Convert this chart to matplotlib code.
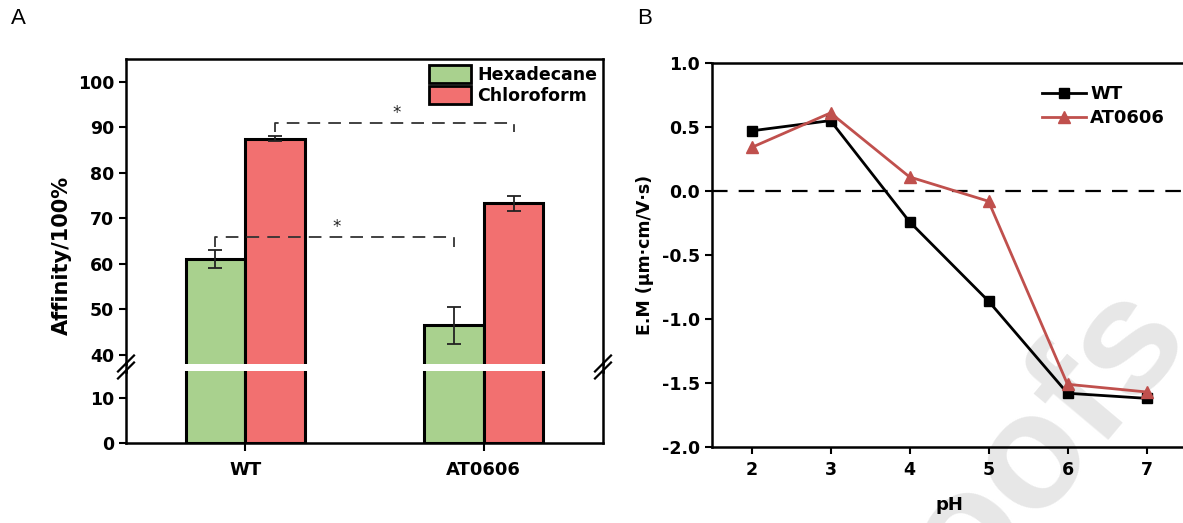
import matplotlib
matplotlib.use("Agg")
import matplotlib.pyplot as plt
import matplotlib.ticker as mticker
import numpy as np
from matplotlib.lines import Line2D
from matplotlib.patches import Patch

plt.rcParams["font.family"] = ["DejaVu Sans"]
plt.rcParams["font.weight"] = "bold"
plt.rcParams["axes.labelweight"] = "bold"

# --- panel A data
strains = ["WT", "AT0606"]
solvents = ["Hexadecane", "Chloroform"]
hexadecane = [61.0, 46.5]
hexadecane_err = [2.0, 4.1]
chloroform = [87.5, 73.3]
chloroform_err = [0.5, 1.6]
sig_levels = [66.0, 91.0]      # height of the dashed brackets
sig_drop = [63.8, 89.0]        # bottom of the bracket legs

# --- panel B data
ph = [2, 3, 4, 5, 6, 7]
em_wt = [0.47, 0.55, -0.24, -0.86, -1.58, -1.62]
em_at = [0.34, 0.61, 0.11, -0.08, -1.51, -1.57]

GREEN = "#A9D18E"
RED = "#F27070"
LINE_RED = "#C0504D"

W, H = 1183, 523
fig = plt.figure(figsize=(W / 100, H / 100), dpi=100)


def px(x0, y0, x1, y1):
    """pixel box (top-left origin) -> figure fraction rect"""
    return [x0 / W, 1 - y1 / H, (x1 - x0) / W, (y1 - y0) / H]


def fig_line(xs, ys, **kw):
    fig.add_artist(Line2D([x / W for x in xs], [1 - y / H for y in ys], **kw))


# watermark, behind the axes
fig.text(1022 / W, 1 - 530 / H, "Proofs", fontsize=118, color="#e7e7e7", rotation=50,
         rotation_mode="anchor", ha="center", va="baseline", fontweight="bold",
         family="Liberation Sans", zorder=-1)

# ---------------- panel A (broken axis)
ax_hi = fig.add_axes(px(126, 59, 603, 364))
ax_lo = fig.add_axes(px(126, 371, 603, 443))
x = np.arange(len(strains))
bw = 0.25
ekw = dict(ecolor="#222222", elinewidth=1.3, capsize=5, capthick=1.3)
for ax in (ax_hi, ax_lo):
    ax.bar(x - bw / 2, hexadecane, bw, color=GREEN, edgecolor="black", linewidth=2.2,
           yerr=hexadecane_err, error_kw=ekw, label=solvents[0], zorder=2)
    ax.bar(x + bw / 2, chloroform, bw, color=RED, edgecolor="black", linewidth=2.2,
           yerr=chloroform_err, error_kw=ekw, label=solvents[1], zorder=2)
    ax.set_xlim(-0.5, 1.5)
    for s in ax.spines.values():
        s.set_linewidth(1.8)
    ax.tick_params(axis="y", direction="out", width=1.5, length=5, labelsize=12.5)

ax_hi.set_ylim(38, 105)
ax_hi.set_yticks(range(40, 101, 10))
ax_hi.spines["bottom"].set_visible(False)
ax_hi.tick_params(axis="x", bottom=False, labelbottom=False)
ax_lo.set_ylim(0, 16)
ax_lo.set_yticks([0, 10])
ax_lo.spines["top"].set_visible(False)
ax_lo.set_xticks(x)
ax_lo.set_xticklabels(strains)
ax_lo.tick_params(axis="x", direction="out", width=1.5, length=6, labelsize=13, pad=7)

# significance brackets
pairs = [(x[0] - bw / 2, x[1] - bw / 2), (x[0] + bw / 2, x[1] + bw / 2)]
for (a, b), lev, drop in zip(pairs, sig_levels, sig_drop):
    ax_hi.plot([a, a, b, b], [drop, lev, lev, drop], ls=(0, (7, 4.5)), color="#333333", lw=1.3, zorder=3)
    ax_hi.text(a + 0.51 * (b - a), lev + 0.2, "*", ha="center", va="bottom",
               fontsize=12, fontweight="normal", color="#222222")

ax_hi.legend(loc="upper right", frameon=False, fontsize=12.5, handlelength=2.4, handleheight=1.2,
             handletextpad=0.35, labelspacing=0.12, borderaxespad=0.15, borderpad=0.2,
             handles=[Patch(facecolor=GREEN, edgecolor="black", linewidth=2, label=solvents[0]),
                      Patch(facecolor=RED, edgecolor="black", linewidth=2, label=solvents[1])])
fig.text(62 / W, 1 - 255 / H, "Affinity/100%", rotation=90, ha="center", va="center",
         fontsize=15)

# keep spines continuous through the break and draw the // marks
for sx in (126, 603):
    fig_line([sx, sx], [363, 372], color="black", lw=1.8)
    for dy in (-3.5, 3.5):
        fig_line([sx - 8, sx + 8], [367 + dy + 8, 367 + dy - 8], color="black", lw=1.6)

fig.text(18 / W, 1 - 18 / H, "A", fontsize=16, fontweight="normal", ha="center", va="center",
         family="Liberation Sans")

# ---------------- panel B
axb = fig.add_axes(px(712, 63, 1186, 447))
axb.set_facecolor("none")
axb.plot(ph, em_wt, color="black", lw=2, marker="s", ms=7, label="WT", zorder=3)
axb.plot(ph, em_at, color=LINE_RED, lw=2, marker="^", ms=8, label="AT0606", zorder=3)
axb.axhline(0, color="black", lw=1.6, ls=(0, (7, 5)), zorder=1)
axb.set_xlim(1.5, 7.5)
axb.set_ylim(-2.0, 1.0)
axb.set_xticks(ph)
axb.set_yticks(np.arange(-2.0, 1.01, 0.5))
axb.yaxis.set_major_formatter(mticker.FormatStrFormatter("%.1f"))
for s in axb.spines.values():
    s.set_linewidth(1.8)
axb.tick_params(direction="out", width=1.5, length=5, labelsize=12.5)
axb.tick_params(axis="x", pad=5)
axb.set_xlabel("pH", fontsize=13, labelpad=12)
axb.set_ylabel("E.M (μm·cm/V·s)", fontsize=12.5, labelpad=6)
axb.legend(loc="upper right", bbox_to_anchor=(0.99, 0.985), frameon=False, fontsize=13,
           handlelength=2.4, handletextpad=0.25, labelspacing=0.35)
fig.text(645 / W, 1 - 18 / H, "B", fontsize=16, fontweight="normal", ha="center", va="center",
         family="Liberation Sans")

fig.savefig("out.png", dpi=100)
